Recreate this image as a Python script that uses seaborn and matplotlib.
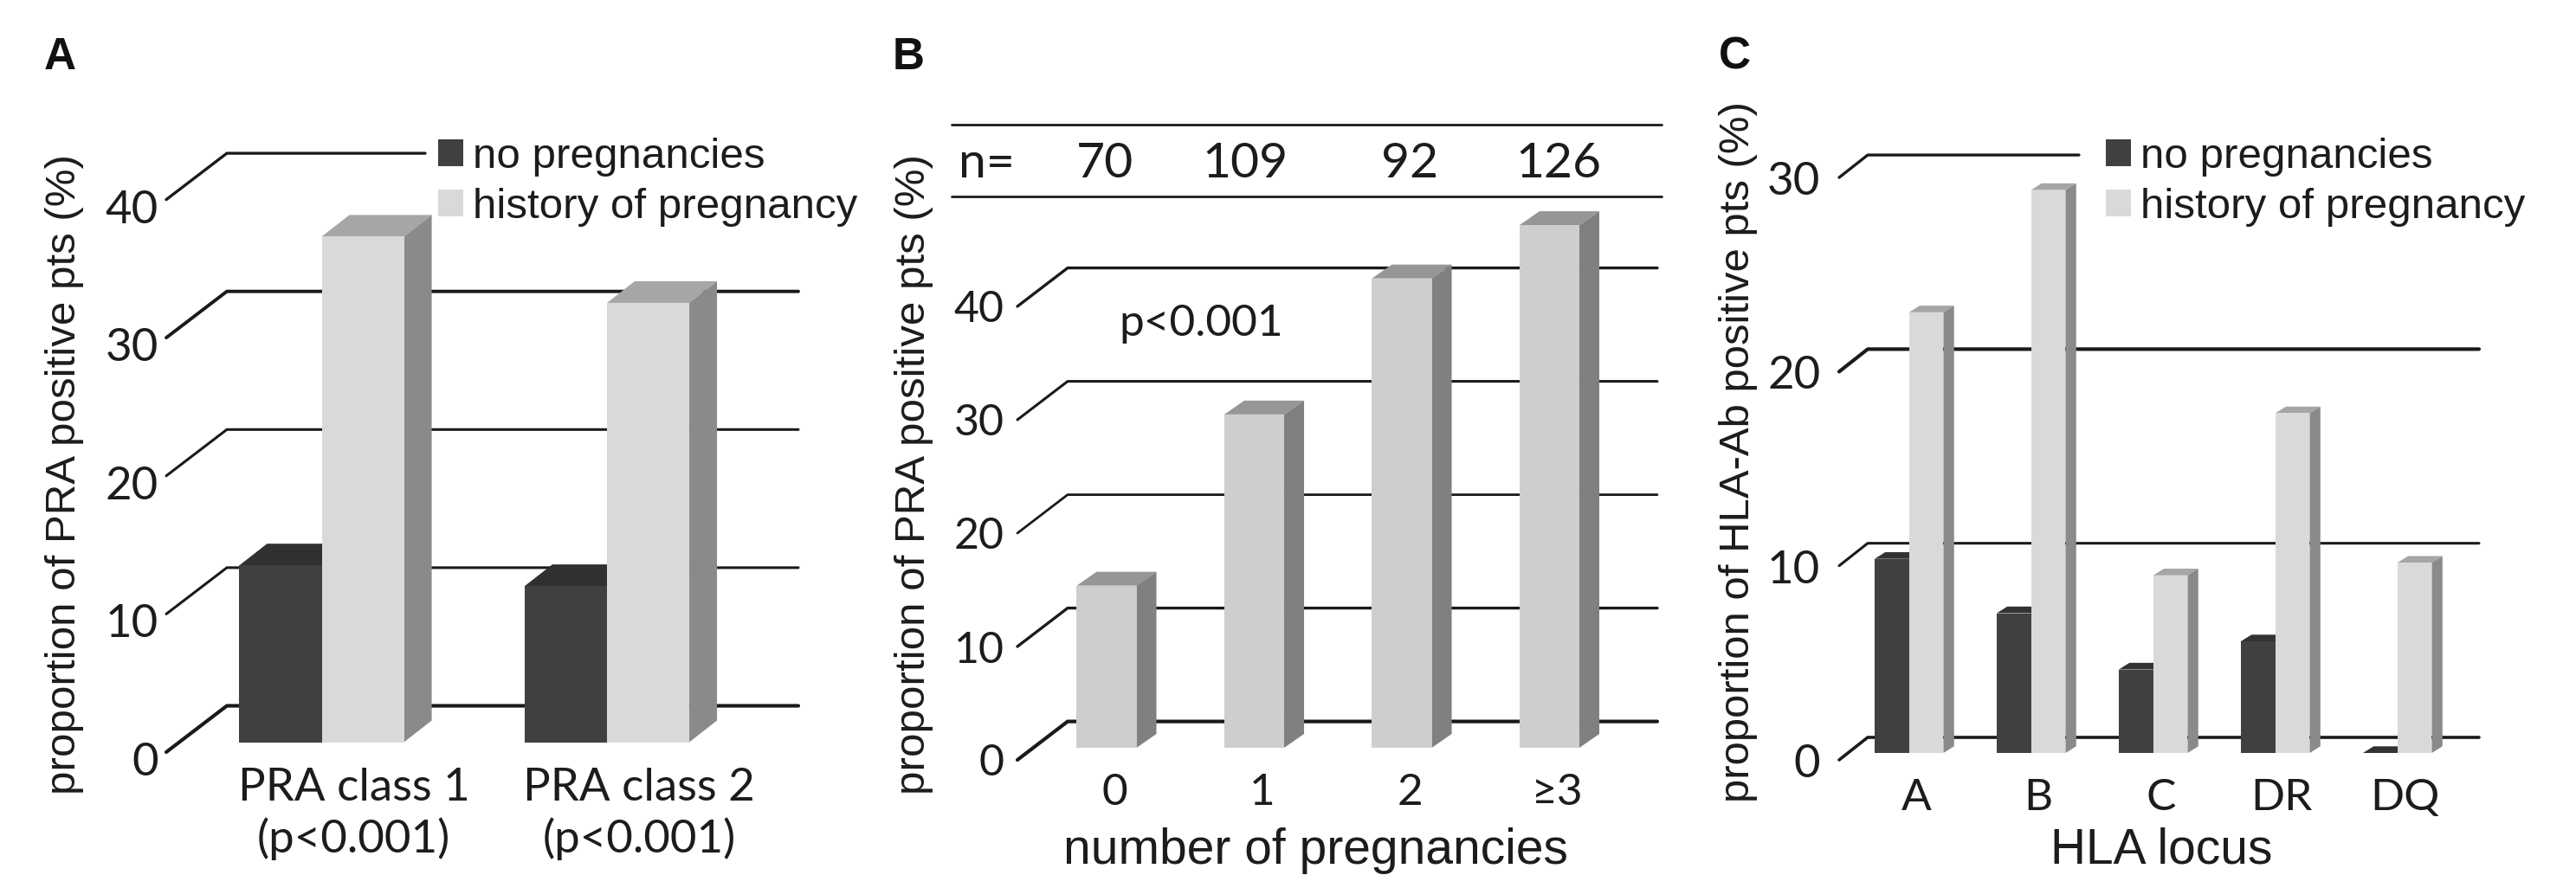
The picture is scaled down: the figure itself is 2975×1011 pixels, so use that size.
import pandas as pd
import matplotlib
matplotlib.use("Agg")
import matplotlib.pyplot as plt
import seaborn as sns
from matplotlib.transforms import Affine2D

W, H = 2975, 1011

# ---------------------------------------------------------
# data
# ---------------------------------------------------------
groups = ["no pregnancies", "history of pregnancy"]

a_cats = ["PRA class 1\n(p<0.001)", "PRA class 2\n(p<0.001)"]
a_none = [12.8, 11.3]
a_hist = [36.6, 31.8]
a_ticks = [0, 10, 20, 30, 40]

b_cats = ["0", "1", "2", "≥3"]
b_vals = [14.3, 29.4, 41.4, 46.1]
b_n = ["70", "109", "92", "126"]
b_ticks = [0, 10, 20, 30, 40]

c_cats = ["A", "B", "C", "DR", "DQ"]
c_none = [10.0, 7.2, 4.3, 5.75, 0.0]
c_hist = [22.7, 29.0, 9.15, 17.5, 9.8]
c_ticks = [0, 10, 20, 30]

# ---------------------------------------------------------
# style
# ---------------------------------------------------------
sns.set_theme(style="white")
plt.rcParams["font.family"] = ["Liberation Sans", "DejaVu Sans"]
plt.rcParams["text.color"] = "#1c1c1c"
plt.rcParams["axes.labelcolor"] = "#1c1c1c"
plt.rcParams["xtick.color"] = "#1c1c1c"
plt.rcParams["ytick.color"] = "#1c1c1c"
TICK_FONT = ["Lato", "DejaVu Sans"]

fig = plt.figure(figsize=(W / 100, H / 100), dpi=100)
fig.patch.set_facecolor("white")


def make_axes(first, spacing, n, base, unit, ymax):
    left = first - spacing / 2
    width = spacing * n
    ax = fig.add_axes([left / W, 1 - base / H, width / W, unit * ymax / H])
    ax.geom = (left, spacing, base, unit)
    return ax


def xd(ax, px):
    return (px - ax.geom[0]) / ax.geom[1] - 0.5


def yd(ax, px):
    return (ax.geom[2] - px) / ax.geom[3]


def walls(ax, ticks, x_front, x_back, x_end, off_front, off_back, widths, top_end=None):
    # gridlines on the back wall, with the slanted piece on the floor side
    unit = ax.geom[3]
    for v, lw in zip(ticks, widths):
        end = top_end if (top_end is not None and v == ticks[-1]) else x_end
        xs = [xd(ax, x_front), xd(ax, x_back), xd(ax, end)]
        ys = [v - off_front / unit, v + off_back / unit, v + off_back / unit]
        ax.plot(xs, ys, color="#1a1a1a", lw=lw, zorder=1, clip_on=False, solid_joinstyle="miter")


def depth(ax, dx, dy, top_cols, side_cols):
    # fake 3D faces built from the seaborn bars
    ddx = dx / ax.geom[1]
    ddy = dy / ax.geom[3]
    for cont, top, side in zip(ax.containers, top_cols, side_cols):
        for b in cont:
            x0, w, h = b.get_x(), b.get_width(), b.get_height()
            x1 = x0 + w
            ax.fill([x0, x1, x1 + ddx, x0 + ddx], [h, h, h + ddy, h + ddy],
                    color=top, lw=0, zorder=2, clip_on=False)
            ax.fill([x1, x1 + ddx, x1 + ddx, x1], [0, ddy, h + ddy, h],
                    color=side, lw=0, zorder=2, clip_on=False)
            b.set_zorder(3)
            b.set_clip_on(False)


def finish(ax, cats, ticks, ymax, xshift, yshift, ypad, xpad, ysize, xsize):
    ax.set_xlim(-0.5, len(cats) - 0.5)
    ax.set_ylim(0, ymax)
    ax.set_yticks(ticks)
    ax.set_xlabel("")
    ax.set_ylabel("")
    sns.despine(ax=ax, left=True, bottom=True, right=True, top=True)
    ax.patch.set_alpha(0)
    ax.tick_params(axis="y", length=0, pad=ypad, labelsize=ysize)
    ax.tick_params(axis="x", length=0, pad=xpad, labelsize=xsize)
    for lab in ax.get_yticklabels():
        lab.set_fontfamily(TICK_FONT)
        lab.set_transform(lab.get_transform() + Affine2D().translate(0, yshift))
    for lab, dx in zip(ax.get_xticklabels(), xshift):
        lab.set_fontfamily(TICK_FONT)
        lab.set_linespacing(1.25)
        lab.set_transform(lab.get_transform() + Affine2D().translate(dx, 0))


def ylab(ax, text, x, y, size):
    ax.set_ylabel(text, fontsize=size, va="center")
    ax.yaxis.set_label_coords(x / W, 1 - y / H, transform=fig.transFigure)


def xlab(ax, text, x, y, size):
    ax.set_xlabel(text, fontsize=size, va="center")
    ax.xaxis.set_label_coords(x / W, 1 - y / H, transform=fig.transFigure)


def legend(ax, x, y, size):
    sns.move_legend(ax, "upper left", bbox_to_anchor=(x / W, 1 - y / H),
                    bbox_transform=fig.transFigure, frameon=False, title=None,
                    fontsize=size, borderpad=0, borderaxespad=0, handlelength=0.59,
                    handleheight=0.59, handletextpad=0.22, labelspacing=0.26)


dark, light = "#404040", "#d9d9d9"

# ---------------------------------------------------------
# A
# ---------------------------------------------------------
ax = make_axes(371.5, 329.5, 2, 857.5, 15.96, 40)
df = pd.DataFrame({"cat": a_cats * 2,
                   "group": [groups[0]] * 2 + [groups[1]] * 2,
                   "val": a_none + a_hist})
sns.barplot(data=df, x="cat", y="val", hue="group", palette=[dark, light],
            width=0.577, gap=0, saturation=1, linewidth=0, ax=ax, zorder=3)
walls(ax, a_ticks, 192, 262, 922, 11.5, 42, [3.0, 2.2, 2.2, 2.8, 2.4], top_end=491)
depth(ax, 32, 25, ["#303030", "#a6a6a6"], ["#303030", "#8a8a8a"])
finish(ax, a_cats, a_ticks, 40, [37, 37], -19.5, 17, 21, 38, 38)
ylab(ax, "proportion of PRA positive pts (%)", 75, 548, 35.5)
legend(ax, 506, 159, 35.5)

# ---------------------------------------------------------
# B
# ---------------------------------------------------------
ax = make_axes(1278, 170.5, 4, 864, 13.1, 40)
sns.barplot(x=b_cats, y=b_vals, color="#cecece", width=0.405, saturation=1,
            linewidth=0, ax=ax, zorder=3)
walls(ax, b_ticks, 1175, 1233, 1914, 14, 30.4, [3.0, 2.4, 2.0, 2.2, 2.4])
depth(ax, 23, 16, ["#969696"], ["#808080"])
finish(ax, b_cats, b_ticks, 40, [9, 9, 9, 9], -14, 24, 21, 36, 37)
ylab(ax, "proportion of PRA positive pts (%)", 1056, 548, 35.5)
xlab(ax, "number of pregnancies", 1519, 983, 41)
for py in [144, 227]:
    ax.plot([xd(ax, 1099), xd(ax, 1919)], [yd(ax, py)] * 2, color="#1a1a1a", lw=2.0, clip_on=False)
ax.text(xd(ax, 1139), yd(ax, 190), "n=", fontsize=41, family=TICK_FONT, ha="center", va="center")
for n_txt, px in zip(b_n, [1276, 1437.5, 1628, 1800]):
    ax.text(xd(ax, px), yd(ax, 190), n_txt, fontsize=41, family=TICK_FONT, ha="center", va="center")
ax.text(xd(ax, 1387), yd(ax, 374), "p<0.001", fontsize=37, family=TICK_FONT, ha="center", va="center")

# ---------------------------------------------------------
# C
# ---------------------------------------------------------
ax = make_axes(2204.7, 141, 5, 870, 22.43, 30)
df = pd.DataFrame({"cat": c_cats * 2,
                   "group": [groups[0]] * 5 + [groups[1]] * 5,
                   "val": c_none + c_hist})
sns.barplot(data=df, x="cat", y="val", hue="group", palette=[dark, light],
            width=0.564, gap=0, saturation=1, linewidth=0, ax=ax, zorder=3)
walls(ax, c_ticks, 2124, 2157, 2863, 8, 18, [2.6, 2.2, 3.0, 2.4], top_end=2401)
depth(ax, 12.3, 7.7, ["#333333", "#a6a6a6"], ["#333333", "#8a8a8a"])
finish(ax, c_cats, c_ticks, 30, [9, 8, 9, 7, 9], -9, 23, 21, 38, 37)
ylab(ax, "proportion of HLA-Ab positive pts (%)", 2008, 522, 35.4)
xlab(ax, "HLA locus", 2496, 983, 41)
legend(ax, 2432, 159, 35.5)

# ---------------------------------------------------------
# panel letters
# ---------------------------------------------------------
for letter, px in zip(["A", "B", "C"], [51, 1031, 1985]):
    fig.text(px / W, 1 - 66 / H, letter, fontsize=37, fontweight="bold", color="#111111",
             ha="left", va="center")

fig.savefig("out.png", dpi=100)
